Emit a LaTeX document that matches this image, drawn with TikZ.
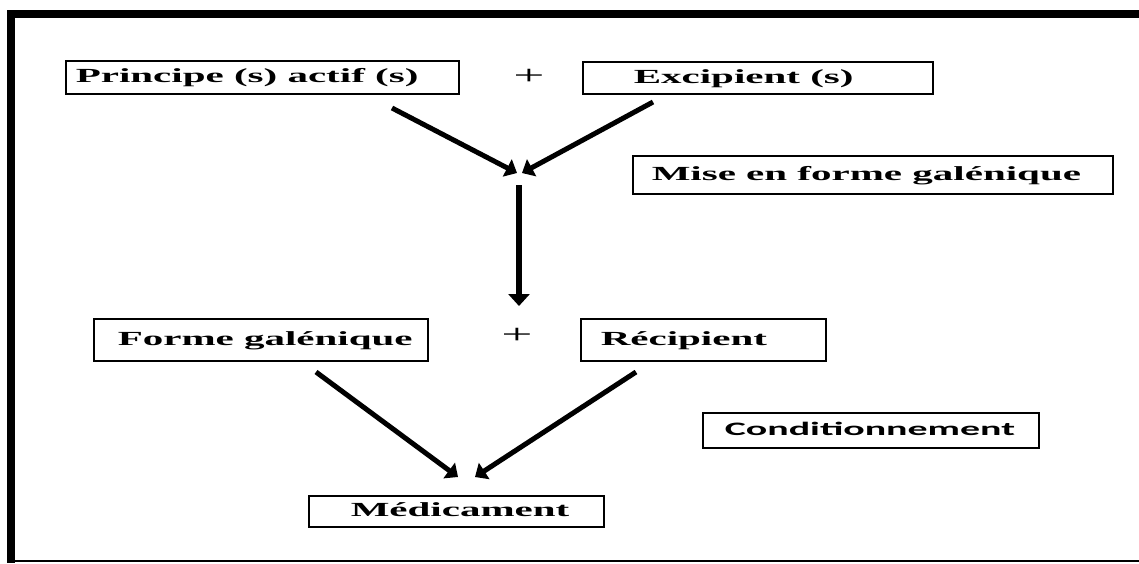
\documentclass[tikz,border=0pt]{standalone}
\usepackage{fontspec}
\setmainfont[FakeStretch=2.05]{Liberation Serif}
\newfontfamily\condfont[FakeStretch=2.1]{Carlito}
\usetikzlibrary{arrows.meta}
\begin{document}
\begin{tikzpicture}[x=1pt,y=-1pt,
  box/.style={draw, line width=1.5pt, inner sep=0pt, anchor=north west,
    text height=13pt, text depth=2pt, font=\fontsize{20}{24}\selectfont\bfseries},
  flow/.style={line width=5pt, -{Triangle[length=11pt,width=19pt]}},
  vflow/.style={line width=6pt, -{Triangle[length=12pt,width=21pt]}},
  plus/.style={font=\fontsize{27}{30}\selectfont, inner sep=0pt},
  frameline/.style={line width=8pt}]
\useasboundingbox (0,0) rectangle (1139,563);
\fill[white] (0,0) rectangle (1139,563);
% frame
\draw[frameline] (7,14) -- (1139,14);
\draw[frameline] (11,10) -- (11,563);
\draw[line width=2pt] (7,561) -- (1139,561);
% boxes
\node[box, minimum height=33pt] (p) at (65,60) {\makebox[393pt][l]{\hspace*{10pt}Principe (s) actif (s)}};
\node[plus] (plus1) at (529,77) {+};
\node[box, minimum height=32pt] (e) at (582,61) {\makebox[350pt][l]{\hspace*{51pt}Excipient (s)}};
\node[box, minimum height=38pt] (m) at (632,155) {\makebox[480pt][l]{\hspace*{19pt}Mise en forme galénique}};
\node[box, minimum height=42pt] (f) at (93,318) {\makebox[334pt][l]{\hspace*{24pt}Forme galénique}};
\node[plus] (plus2) at (517,336) {+};
\node[box, minimum height=42pt] (r) at (580,318) {\makebox[245pt][l]{\hspace*{20pt}Récipient}};
\node[box, minimum height=35pt, font=\fontsize{19}{23}\condfont\bfseries] (c) at (702,412) {\makebox[336pt][l]{\hspace*{22pt}Conditionnement}};
\node[box, minimum height=31pt] (med) at (308,495) {\makebox[295pt][l]{\hspace*{42pt}Médicament}};
% arrow ends
\coordinate (a1s) at (392,108);
\coordinate (a1e) at (517,173);
\coordinate (a2s) at (653,102);
\coordinate (a2e) at (522,173);
\coordinate (a3s) at (519,185);
\coordinate (a3e) at (519,306);
\coordinate (a4s) at (316,372);
\coordinate (a4e) at (458,477);
\coordinate (a5s) at (636,372);
\coordinate (a5e) at (475,477);
\draw[flow] (a1s) -- (a1e);
\draw[flow] (a2s) -- (a2e);
\draw[vflow] (a3s) -- (a3e);
\draw[flow] (a4s) -- (a4e);
\draw[flow] (a5s) -- (a5e);
\end{tikzpicture}
\end{document}
